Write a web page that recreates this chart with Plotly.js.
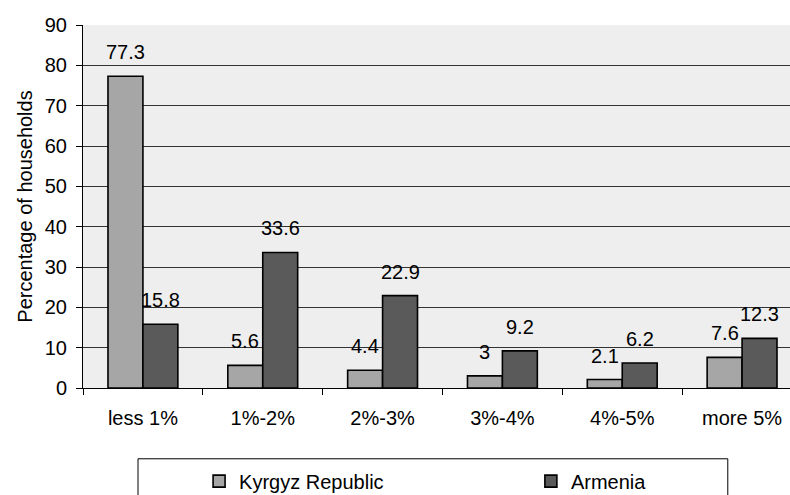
<!DOCTYPE html>
<html>
<head>
<meta charset="utf-8">
<script src="https://cdn.plot.ly/plotly-3.0.1.min.js"></script>
<style>html,body{margin:0;padding:0;background:#fff;}#chart{width:790px;height:495px;}</style>
</head>
<body>
<div id="chart"></div>
<script>
var categories = ["less 1%", "1%-2%", "2%-3%", "3%-4%", "4%-5%", "more 5%"];
var kyrgyz = [77.3, 5.6, 4.4, 3, 2.1, 7.6];
var armenia = [15.8, 33.6, 22.9, 9.2, 6.2, 12.3];
var seriesNames = ["Kyrgyz Republic", "Armenia"];
var yTicks = [0, 10, 20, 30, 40, 50, 60, 70, 80, 90];

var FONT = "Liberation Sans, Arial, sans-serif";
var traces = [
  {type: "bar", name: seriesNames[0], x: categories, y: kyrgyz, legend: "legend",
   marker: {color: "#a6a6a6", line: {color: "#000", width: 1.6}}},
  {type: "bar", name: seriesNames[1], x: categories, y: armenia, legend: "legend2",
   marker: {color: "#5a5a5a", line: {color: "#000", width: 1.6}}}
];

var annotations = [];
[kyrgyz, armenia].forEach(function (arr, si) {
  arr.forEach(function (v, i) {
    annotations.push({x: categories[i], y: v, xref: "x", yref: "y", text: String(v),
      showarrow: false, yanchor: "bottom", xanchor: "center",
      xshift: si === 0 ? -17.5 : 17.5, yshift: 11,
      font: {family: FONT, size: 20, color: "#000"}});
  });
});

var legendBase = {orientation: "h", xref: "container", yref: "container", xanchor: "left",
  y: 0.028, yanchor: "middle", bgcolor: "rgba(0,0,0,0)",
  font: {family: FONT, size: 20, color: "#000"}};

var layout = {
  width: 790, height: 495,
  margin: {l: 83, r: 0, t: 25, b: 107, autoexpand: false},
  paper_bgcolor: "#fff", plot_bgcolor: "#eeeeee",
  font: {family: FONT, size: 20, color: "#000"},
  barmode: "group", bargap: 0.417, bargroupgap: 0,
  showlegend: true,
  legend: Object.assign({}, legendBase, {x: 0.252}),
  legend2: Object.assign({}, legendBase, {x: 0.672}),
  xaxis: {type: "category", range: [-0.5, 5.4], showgrid: false, showline: true,
          linecolor: "#000", linewidth: 1, ticks: "outside", tickson: "boundaries",
          ticklen: 6, tickcolor: "#000", ticklabelstandoff: 12, fixedrange: true},
  yaxis: {range: [0, 90], tickvals: yTicks, showgrid: true, gridcolor: "#333", gridwidth: 1,
          showline: true, linecolor: "#000", linewidth: 1, ticks: "outside", ticklen: 6,
          tickcolor: "#000", zeroline: false, ticklabelstandoff: 5,
          title: {text: "Percentage of households", standoff: 6, font: {family: FONT, size: 20}}},
  shapes: [{type: "rect", xref: "paper", yref: "paper", x0: 0.0778, x1: 0.912, y0: -0.195, y1: -0.32,
            line: {color: "#000", width: 1}, fillcolor: "#fff", layer: "below"}],
  annotations: annotations
};

Plotly.newPlot("chart", traces, layout, {displayModeBar: false, staticPlot: true});
</script>
</body>
</html>
